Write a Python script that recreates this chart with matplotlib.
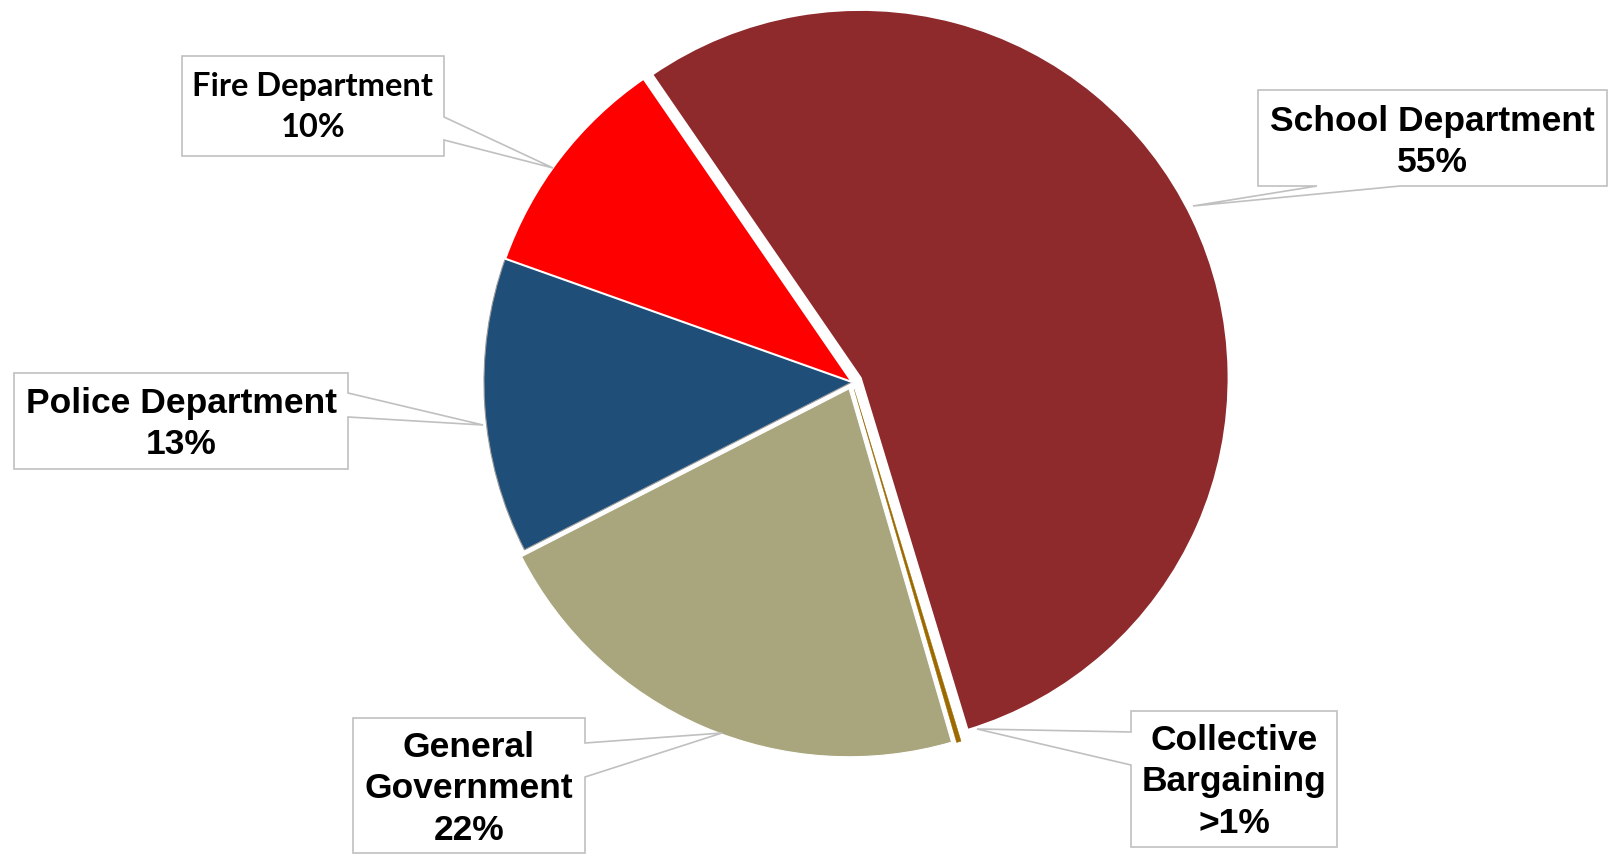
import matplotlib.pyplot as plt
from matplotlib.patches import Polygon

# budget shares by department
departments = ['School Department', 'Collective\nBargaining', 'General\nGovernment',
               'Police Department', 'Fire Department']
shares = [55, 0.2, 22, 13, 10]
share_text = ['55%', '>1%', '22%', '13%', '10%']
colors = ['#8E292C', '#9C6A00', '#A9A67E', '#1F4E78', '#FF0000']
pull_out = [0.026, 0.02, 0.02, 0, 0]

W, H = 1613, 857
R = 368


def flip(pts):
    # layout numbers are measured from the top edge
    return [(x, H - y) for x, y in pts]


fig = plt.figure(figsize=(16.13, 8.57), dpi=100)
ax = fig.add_axes([0, 0, 1, 1])

# pie's explode offset is in data units here, so scale by the radius
wedges, _ = ax.pie(shares, colors=colors, explode=[p * R for p in pull_out],
                   startangle=124.5, counterclock=False, center=(852, H - 382),
                   radius=R, frame=True,
                   wedgeprops=dict(edgecolor='white', linewidth=1.5))
wedges[1].set_edgecolor('#9C6A00')
wedges[1].set_linewidth(0.3)
wedges[2].set_linewidth(0.8)
wedges[3].set_edgecolor('#9a9a9a')
wedges[3].set_linewidth(0.8)

ax.set_xlim(0, W)
ax.set_ylim(0, H)
ax.set_aspect('equal')
ax.axis('off')

# callout boxes: outline with the pointer notch, then the text centre
callouts = [
    [(1258, 90), (1607, 90), (1607, 186), (1400, 186), (1193, 206), (1317, 186), (1258, 186)],
    [(1131, 711), (1337, 711), (1337, 847), (1131, 847), (1131, 765), (977, 729), (1131, 732)],
    [(353, 718), (585, 718), (585, 743), (722, 733), (585, 777), (585, 853), (353, 853)],
    [(14, 373), (348, 373), (348, 393), (483, 425), (348, 417), (348, 469), (14, 469)],
    [(182, 56), (444, 56), (444, 117), (553, 168), (444, 140), (444, 156), (182, 156)],
]
text_pos = [(1432, 142), (1234, 782), (469, 789), (181, 424), (313, 107)]

for i, name in enumerate(departments):
    ax.add_patch(Polygon(flip(callouts[i]), closed=True, facecolor='white',
                         edgecolor='#c0c0c0', linewidth=1.2, zorder=3))
    if name == 'Fire Department':
        fam, size, ls = 'Lato', 23.5, 1.5
    else:
        fam, size, ls = 'Liberation Sans', 25.5, 1.33
    ax.text(text_pos[i][0], H - text_pos[i][1], name + '\n' + share_text[i],
            ha='center', va='center', fontsize=size, fontweight='bold',
            family=fam, linespacing=ls, zorder=4)

fig.savefig('out.png', dpi=100, facecolor='white')
